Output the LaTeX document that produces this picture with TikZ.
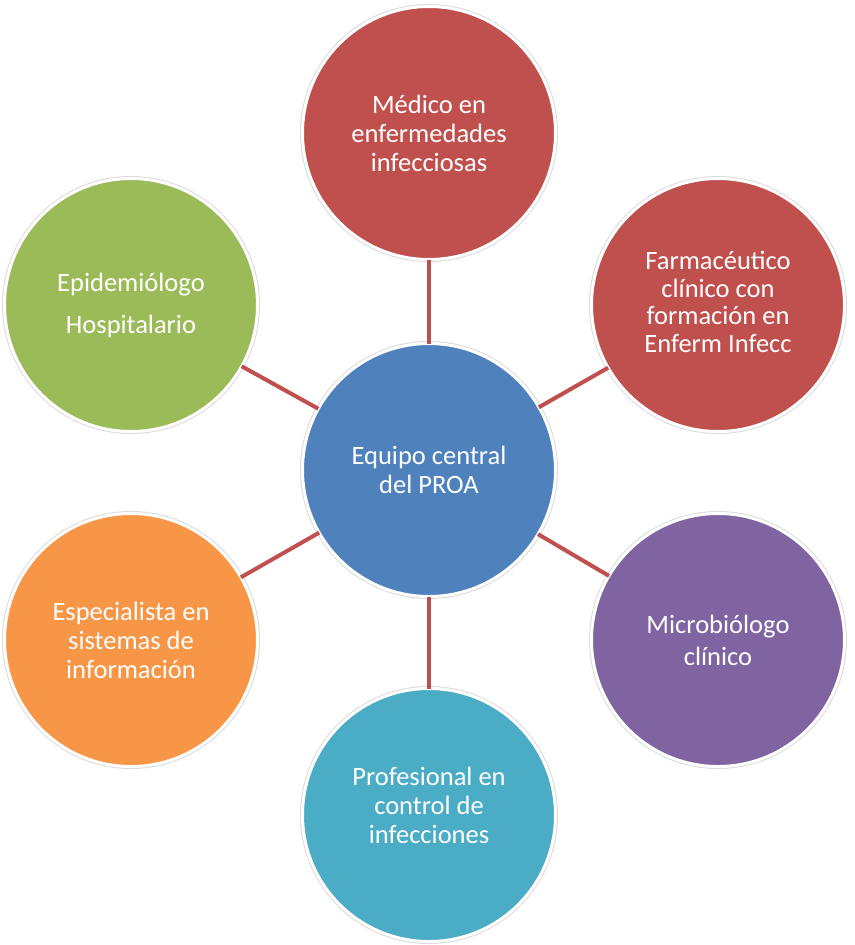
\documentclass[tikz,border=0pt]{standalone}
\usepackage{fontspec}
\setmainfont{Carlito}
\definecolor{proaBlue}{HTML}{4F81BD}
\definecolor{proaRed}{HTML}{C0504D}
\definecolor{proaGreen}{HTML}{9BBB59}
\definecolor{proaOrange}{HTML}{F79646}
\definecolor{proaPurple}{HTML}{8064A2}
\definecolor{proaTeal}{HTML}{4BACC6}
\begin{document}
\begin{tikzpicture}[x=1pt,y=-1pt,
  member/.style={circle, minimum size=253pt, inner sep=0pt, outer sep=0pt,
    draw=white, line width=3pt,
    preaction={draw=black!14, line width=5pt},
    text=white, align=center,
    font=\fontsize{26.5}{29}\selectfont},
  label/.style={text=white, align=center, font=\fontsize{26.5}{29}\selectfont},
  link/.style={draw=proaRed, line width=4pt}]
  \useasboundingbox (0,0) rectangle (854,945);

  % team members around the core
  \node[member, fill=proaBlue]   (core)  at (429,470) {Equipo central\\del PROA};
  \node[member, fill=proaRed]    (med)   at (429,133) {Médico en\\enfermedades\\infecciosas};
  \node[member, fill=proaRed]    (farm)  at (718,305) {};
  \node[member, fill=proaPurple] (micro) at (718,640) {Microbiólogo\\[3pt]clínico};
  \node[member, fill=proaTeal]   (ctrl)  at (429,815) {};
  \node[member, fill=proaOrange] (info)  at (131,640) {Especialista en\\sistemas de\\información};
  \node[member, fill=proaGreen]  (epi)   at (131,305) {Epidemiólogo\\[13pt]Hospitalario};

  % labels that need their own spacing or offset (yshift is upwards)
  \node[label, font=\fontsize{26.5}{27.5}\selectfont]
    (farmtext) at ([yshift=3pt]farm.center) {Farmacéutico\\clínico con\\formación en\\Enferm Infecc};
  \node[label]
    (ctrltext) at ([yshift=10pt]ctrl.center) {Profesional en\\control de\\infecciones};

  % spokes from the core to each member
  \foreach \m in {med,farm,micro,ctrl,info,epi}
    \path[link] (core) -- (\m);
\end{tikzpicture}
\end{document}
